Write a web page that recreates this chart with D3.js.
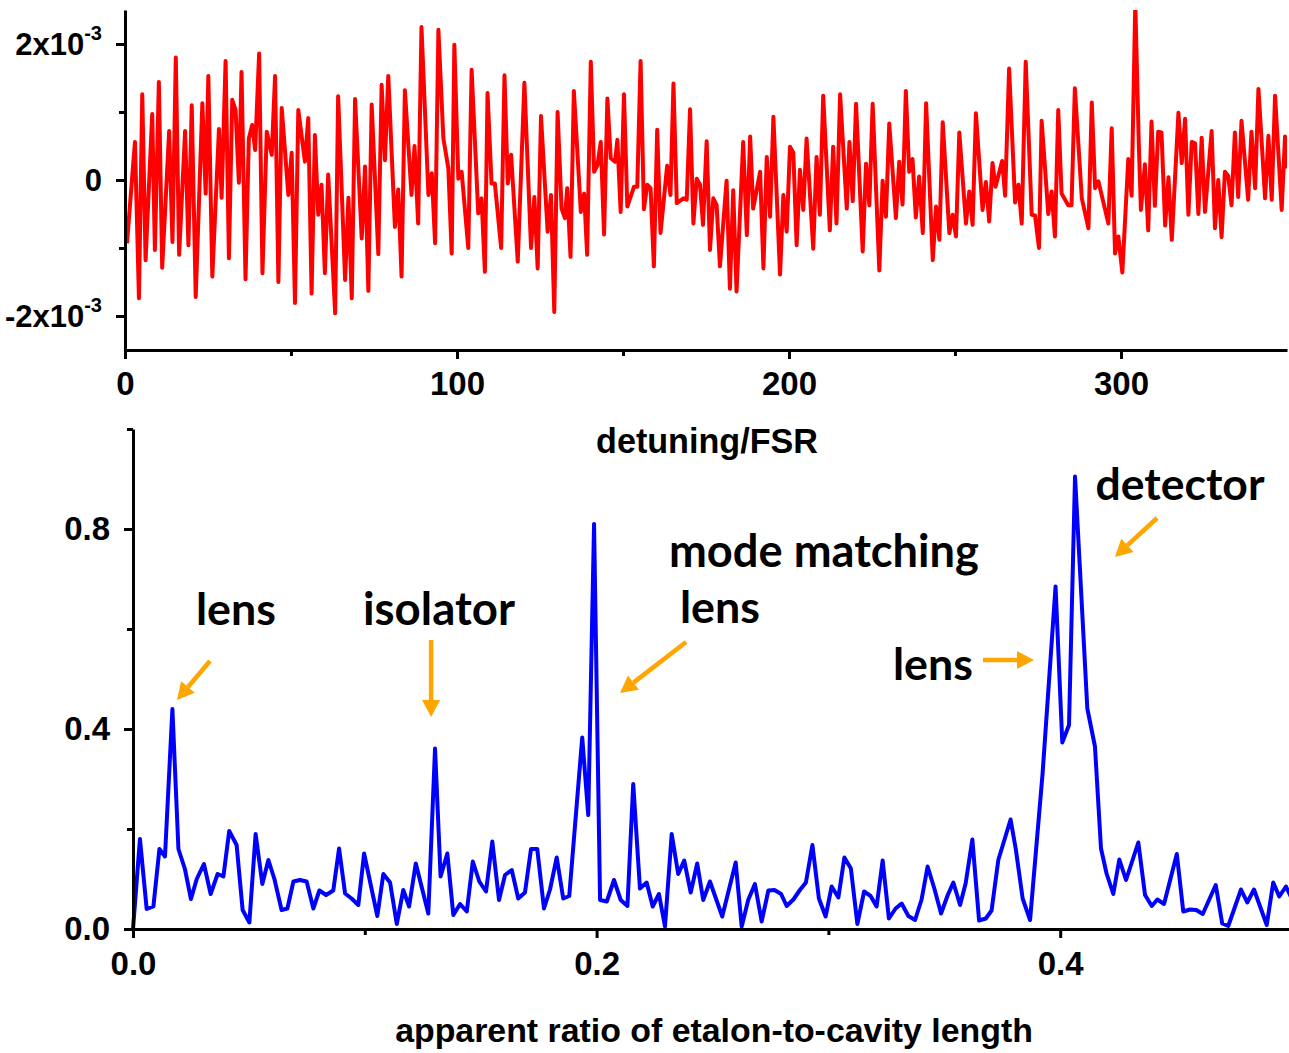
<!DOCTYPE html>
<html><head><meta charset="utf-8">
<script src="https://cdn.jsdelivr.net/npm/d3@7"></script>
<style>body{margin:0;background:#fff} svg{display:block}</style>
</head><body>
<svg id="c" width="1289" height="1053"></svg>
<script>
// ---------- data ----------
// top panel: detuning/FSR vs signal (units of 1e-3)
const redX = [0.6,3.0,4.2,5.2,6.2,8.2,9.0,10.2,11.2,13.3,14.3,15.3,16.3,18.1,19.1,20.1,21.3,23.3,24.3,25.1,26.3,28.3,29.1,30.3,31.3,32.3,33.3,34.3,35.1,36.3,37.3,38.3,39.2,40.4,41.4,42.7,44.2,45.2,46.2,47.2,49.2,50.2,51.2,52.2,54.2,55.2,56.2,57.2,58.2,59.2,60.2,61.2,63.3,64.2,66.3,67.3,68.3,69.3,71.3,72.3,73.3,74.3,76.3,77.3,78.3,79.3,81.3,82.3,83.3,84.3,86.3,87.2,88.3,89.3,91.4,92.4,93.4,94.4,95.9,97.4,98.4,99.2,100.4,101.4,103.4,104.4,106.4,107.4,108.4,109.2,110.4,111.4,113.3,114.3,115.3,116.3,118.3,120.3,122.3,123.3,124.3,125.3,127.3,128.3,129.3,130.3,131.5,132.5,133.2,134.2,135.2,137.3,138.3,139.2,140.3,141.3,142.3,143.3,144.3,145.3,146.3,147.6,148.3,149.3,150.3,151.3,153.3,154.3,155.3,156.3,157.3,158.3,159.3,160.3,161.3,163.3,164.3,165.2,166.2,168.2,169.2,170.2,171.2,172.2,173.2,174.1,175.2,176.2,177.2,178.2,179.2,181.2,182.2,183.2,184.2,186.2,187.3,188.3,189.2,191.3,192.3,193.3,194.3,195.3,197.3,198.3,199.3,200.3,201.3,202.3,203.3,204.3,205.3,207.3,208.3,209.3,210.3,212.3,213.3,214.3,215.4,217.4,218.2,219.2,220.2,222.2,223.2,224.2,225.2,227.2,228.2,229.2,230.2,232.2,233.2,234.2,235.2,236.2,237.2,238.2,239.2,240.3,241.3,243.3,244.3,245.3,246.3,248.3,249.3,250.3,251.3,253.3,254.3,255.3,256.3,258.3,259.3,260.3,261.3,262.2,264.2,265.1,266.3,268.1,269.1,270.1,271.3,273.1,274.1,275.3,276.1,278.1,279.1,280.1,281.1,282.1,284.1,285.1,286.1,288.2,290.2,291.2,292.2,293.2,296.2,297.2,298.2,299.2,300.4,302.2,303.2,304.3,305.4,306.0,307.2,308.2,309.2,310.2,311.2,312.2,313.3,314.3,315.3,317.3,318.3,319.3,320.3,321.3,322.3,323.3,324.3,325.3,327.3,328.3,329.3,330.3,331.3,332.3,333.3,334.3,335.3,336.3,338.3,339.3,340.4,341.4,343.4,344.4,345.4,346.4,348.4,349.4,350.2];
const redY = [-0.93,0.56,-1.74,1.26,-1.18,0.97,-1.03,1.44,-1.29,0.72,-0.91,1.80,-1.10,0.72,-0.96,1.10,-1.72,1.13,-0.20,1.53,-1.42,0.75,-0.26,1.75,-1.15,1.18,1.03,-0.04,1.59,-1.46,0.61,0.81,0.44,1.86,-1.37,0.71,0.37,1.53,-1.50,1.06,-0.22,0.40,-1.81,1.03,0.27,0.91,-1.67,0.66,-0.51,-0.07,-1.37,0.08,-1.96,1.23,-1.47,-0.26,-1.74,1.19,-0.86,0.20,-1.63,1.11,-1.09,1.40,0.29,1.53,-0.69,-0.14,-1.42,1.32,-0.22,0.50,-0.64,2.25,-0.22,0.10,-0.93,2.21,0.61,0.17,-1.08,1.99,0.02,0.12,-1.00,1.62,-0.49,-0.27,-1.35,1.28,-0.05,-0.05,-1.00,1.54,-0.05,0.37,-1.20,1.43,-1.00,-0.25,-1.30,0.94,-0.76,-0.22,-1.94,1.00,-0.42,-0.56,-0.12,-1.13,1.31,-0.47,-0.20,-1.10,1.74,0.12,0.22,0.56,-0.80,1.20,0.32,0.27,0.59,-0.47,1.26,-0.39,-0.10,-0.10,1.75,-0.43,-0.07,-0.12,-1.27,0.74,-0.78,0.21,-0.22,1.42,-0.34,-0.27,-0.29,1.04,-0.64,0.02,-0.07,-0.66,0.57,-1.03,-0.27,-0.37,-1.27,-0.01,-1.60,-0.15,-1.64,0.56,-0.81,0.64,-0.42,0.12,-1.30,0.34,-0.54,0.93,-1.39,-0.22,-0.76,0.49,0.40,-0.96,0.15,-0.44,0.61,-1.01,0.34,-0.51,1.24,-0.74,0.49,-0.64,1.26,-0.42,0.56,-0.31,1.12,-1.05,0.24,-0.37,1.12,-1.33,-0.01,-0.54,0.83,-0.56,0.27,-0.36,1.31,0.12,0.31,-0.55,0.05,-0.78,1.13,-1.18,-0.39,-0.88,0.85,-0.78,-0.51,-0.83,0.70,-0.64,-0.17,-0.66,0.98,-0.44,-0.03,-0.61,0.25,-0.10,0.28,-0.23,1.64,-0.33,-0.07,-0.64,1.74,-0.51,-0.52,-1.00,0.87,-0.50,-0.17,-0.83,1.03,-0.20,-0.37,-0.37,1.35,-0.27,-0.71,1.14,-0.12,-0.02,-0.64,0.76,-1.08,-0.83,-1.36,0.31,-0.23,2.6,0.47,-0.44,0.23,-0.74,0.86,-0.38,0.71,0.70,-0.67,0.04,-0.88,0.99,0.25,0.90,-0.51,0.56,0.54,-0.50,0.62,-0.47,0.72,-0.71,0.00,-0.84,0.12,0.06,-0.37,0.70,-0.25,0.87,-0.29,0.71,-0.12,1.34,-0.27,0.65,-0.29,1.24,-0.44,0.64,0.17];
// bottom panel: apparent ratio vs amplitude
const blueX = [0,0.003,0.0059,0.0088,0.0114,0.0138,0.017,0.0196,0.0224,0.025,0.0275,0.0306,0.0335,0.0365,0.039,0.0415,0.0447,0.0473,0.0502,0.0529,0.0558,0.0584,0.061,0.0641,0.0666,0.0692,0.072,0.0749,0.0778,0.0804,0.0833,0.0864,0.0889,0.0915,0.0943,0.0972,0.0997,0.1054,0.108,0.1109,0.1138,0.1166,0.1191,0.122,0.1274,0.1303,0.1327,0.1356,0.1382,0.1411,0.144,0.1466,0.1494,0.1523,0.155,0.1579,0.1605,0.1634,0.1662,0.1691,0.1717,0.1744,0.1773,0.1799,0.1828,0.1856,0.1882,0.1938,0.1964,0.1989,0.2015,0.2044,0.2075,0.2104,0.2133,0.2158,0.2187,0.2216,0.2242,0.2269,0.2295,0.2324,0.2352,0.2378,0.2406,0.2434,0.246,0.2489,0.2542,0.26,0.2626,0.2654,0.2683,0.2712,0.2741,0.2767,0.2796,0.282,0.2849,0.2877,0.2903,0.2931,0.2959,0.2988,0.3014,0.3043,0.3069,0.3097,0.3125,0.3154,0.3182,0.3208,0.3234,0.3261,0.329,0.3316,0.3345,0.3374,0.3402,0.3428,0.3457,0.3486,0.3515,0.3539,0.3568,0.3592,0.3621,0.365,0.3679,0.3704,0.3733,0.3786,0.3809,0.3838,0.387,0.3924,0.398,0.4009,0.4038,0.4064,0.4117,0.415,0.4176,0.42,0.4229,0.4255,0.4284,0.4337,0.4366,0.4395,0.4419,0.4448,0.4503,0.4531,0.456,0.4587,0.4615,0.4671,0.4699,0.4725,0.478,0.4807,0.4836,0.4891,0.4919,0.4945,0.4974,0.5];
const blueY = [0,0.18,0.04,0.045,0.16,0.145,0.44,0.16,0.12,0.06,0.10,0.13,0.07,0.11,0.105,0.196,0.168,0.038,0.013,0.19,0.09,0.138,0.10,0.038,0.041,0.095,0.098,0.095,0.041,0.077,0.068,0.077,0.161,0.071,0.061,0.048,0.151,0.026,0.11,0.093,0.01,0.078,0.045,0.131,0.031,0.361,0.105,0.151,0.028,0.05,0.035,0.135,0.095,0.075,0.175,0.058,0.108,0.118,0.061,0.073,0.16,0.16,0.041,0.079,0.143,0.061,0.066,0.383,0.228,0.81,0.058,0.055,0.098,0.058,0.046,0.29,0.081,0.093,0.045,0.07,0.005,0.19,0.11,0.137,0.073,0.131,0.058,0.095,0.025,0.133,0.005,0.058,0.09,0.015,0.077,0.078,0.07,0.046,0.059,0.078,0.093,0.168,0.061,0.025,0.085,0.063,0.143,0.121,0.01,0.075,0.066,0.045,0.137,0.021,0.041,0.051,0.026,0.018,0.059,0.125,0.081,0.031,0.068,0.093,0.048,0.091,0.179,0.017,0.021,0.037,0.138,0.219,0.158,0.061,0.018,0.311,0.685,0.373,0.408,0.905,0.441,0.365,0.161,0.111,0.07,0.139,0.098,0.173,0.068,0.046,0.059,0.05,0.15,0.035,0.039,0.038,0.03,0.088,0.011,0.006,0.079,0.053,0.079,0.008,0.093,0.065,0.085,0.06];

const topXTicks = [0,100,200,300];
const topXMinor = [50,150,250];
const topYTicks = [-2,0,2];
const topYMinor = [-1,1];
const botXTicks = [0,0.2,0.4];
const botXMinor = [0.1,0.3];
const botYTicks = [0,0.4,0.8];
const botYMinor = [0.2,0.6,1.0];

const topXTitle = "detuning/FSR";
const botXTitle = "apparent ratio of etalon-to-cavity length";
const annText = ["lens","isolator","mode matching","lens","lens","detector"];

// ---------- drawing ----------
const svg = d3.select("#c");
svg.append("rect").attr("width",1289).attr("height",1053).attr("fill","#fff");
const AX_FONT = "'Liberation Sans', Arial, sans-serif";
const ANN_FONT = "Lato, 'Open Sans', sans-serif";
const TICK_FS = 33;

// scales
const xT = d3.scaleLinear().domain([0,350]).range([125,1287]);
const yT = d3.scaleLinear().domain([-2.5,2.5]).range([350,10]);
const xB = d3.scaleLinear().domain([0,0.5]).range([133,1292]);
const yB = d3.scaleLinear().domain([0,1]).range([929,429]);

function styleAxis(g){
  g.select(".domain").attr("stroke","#000").attr("stroke-width",3);
  g.selectAll(".tick line").attr("stroke","#000").attr("stroke-width",3);
  g.selectAll(".tick text").attr("fill","#000").attr("font-family",AX_FONT)
    .attr("font-weight","bold").attr("font-size",TICK_FS);
}

// clip for top
svg.append("clipPath").attr("id","clipT").append("rect")
  .attr("x",125).attr("y",10).attr("width",1162).attr("height",340);

// top line
const topData = redX.map((x,i)=>[x,redY[i]]);
svg.append("path").datum(topData)
  .attr("clip-path","url(#clipT)")
  .attr("fill","none").attr("stroke","#ff0000").attr("stroke-width",4)
  .attr("stroke-linejoin","round")
  .attr("d", d3.line().x(d=>xT(d[0])).y(d=>yT(d[1])));

// top axes
const gTx = svg.append("g").attr("transform",`translate(0,${yT(-2.5)})`)
  .call(d3.axisBottom(xT).tickValues(topXTicks).tickSize(9).tickSizeOuter(0).tickPadding(13).tickFormat(d3.format("d")));
styleAxis(gTx);
const gTxm = svg.append("g").attr("transform",`translate(0,${yT(-2.5)})`)
  .call(d3.axisBottom(xT).tickValues(topXMinor).tickSize(6).tickSizeOuter(0).tickFormat(""));
styleAxis(gTxm); gTxm.select(".domain").remove();

const gTy = svg.append("g").attr("transform",`translate(${xT(0)},0)`)
  .call(d3.axisLeft(yT).tickValues(topYTicks).tickSize(9).tickSizeOuter(0).tickPadding(14).tickFormat(""));
styleAxis(gTy);
gTy.selectAll(".tick").each(function(d){
  const t = d3.select(this).select("text").attr("font-size",31).attr("dy","0.35em");
  t.text(null);
  if (d===0){ t.text("0"); }
  else {
    t.append("tspan").text((d<0?"-":"")+"2x10");
    t.append("tspan").attr("font-size",20).attr("dy","-0.75em").text("-3");
  }
});
const gTym = svg.append("g").attr("transform",`translate(${xT(0)},0)`)
  .call(d3.axisLeft(yT).tickValues(topYMinor).tickSize(6).tickSizeOuter(0).tickFormat(""));
styleAxis(gTym); gTym.select(".domain").remove();

// bottom line
const botData = blueX.map((x,i)=>[x,blueY[i]]);
svg.append("path").datum(botData)
  .attr("fill","none").attr("stroke","#0000ff").attr("stroke-width",4)
  .attr("stroke-linejoin","round")
  .attr("d", d3.line().x(d=>xB(d[0])).y(d=>yB(d[1])));

// bottom axes
const gBx = svg.append("g").attr("transform",`translate(0,${yB(0)})`)
  .call(d3.axisBottom(xB).tickValues(botXTicks).tickSize(9).tickSizeOuter(0).tickPadding(14).tickFormat(d3.format(".1f")));
styleAxis(gBx);
const gBxm = svg.append("g").attr("transform",`translate(0,${yB(0)})`)
  .call(d3.axisBottom(xB).tickValues(botXMinor).tickSize(6).tickSizeOuter(0).tickFormat(""));
styleAxis(gBxm); gBxm.select(".domain").remove();
const gBy = svg.append("g").attr("transform",`translate(${xB(0)},0)`)
  .call(d3.axisLeft(yB).tickValues(botYTicks).tickSize(9).tickSizeOuter(0).tickPadding(14).tickFormat(d3.format(".1f")));
styleAxis(gBy);
const gBym = svg.append("g").attr("transform",`translate(${xB(0)},0)`)
  .call(d3.axisLeft(yB).tickValues(botYMinor).tickSize(6).tickSizeOuter(0).tickFormat(""));
styleAxis(gBym); gBym.select(".domain").remove();

// axis titles
function fitWidth(sel, w){
  const n = sel.node(); const fs = +sel.attr("font-size");
  const len = n.getComputedTextLength();
  sel.attr("font-size", fs*w/len);
}
const t1 = svg.append("text").attr("x",707).attr("y",453).attr("text-anchor","middle")
  .attr("font-family",AX_FONT).attr("font-weight","bold").attr("font-size",28).text(topXTitle);
fitWidth(t1,222);
const t2 = svg.append("text").attr("x",714).attr("y",1042).attr("text-anchor","middle")
  .attr("font-family",AX_FONT).attr("font-weight","bold").attr("font-size",28).text(botXTitle);
fitWidth(t2,638);

// annotations (positions in data units of bottom panel)
const annPos = [[0.0444,0.608],[0.132,0.608],[0.2981,0.724],[0.2532,0.612],[0.3451,0.498],[0.4517,0.858]];
const annWidths = [80,152,310,80,80,169];
annText.forEach((s,i)=>{
  const t = svg.append("text").attr("x",xB(annPos[i][0])).attr("y",yB(annPos[i][1]))
    .attr("text-anchor","middle").attr("font-family",ANN_FONT).attr("font-weight","bold")
    .attr("font-size",40).attr("fill","#000").text(s);
  fitWidth(t, annWidths[i]);
});
const arrows = [[[0.0332,0.536],[0.019,0.458]],[[0.1286,0.578],[0.1286,0.424]],
  [[0.2386,0.574],[0.2101,0.472]],[[0.3667,0.538],[0.3887,0.538]],[[0.4418,0.822],[0.4236,0.744]]];
const ORANGE = "#ffa500";
arrows.forEach(a=>{
  const x1=xB(a[0][0]), y1=yB(a[0][1]), x2=xB(a[1][0]), y2=yB(a[1][1]);
  const ang = Math.atan2(y2-y1,x2-x1);
  const hl = 17, hw = 9;
  const bx = x2 - hl*Math.cos(ang), by = y2 - hl*Math.sin(ang);
  svg.append("line").attr("x1",x1).attr("y1",y1).attr("x2",bx).attr("y2",by)
    .attr("stroke",ORANGE).attr("stroke-width",4.5);
  const px = -Math.sin(ang), py = Math.cos(ang);
  svg.append("path").attr("fill",ORANGE)
    .attr("d",`M${x2},${y2}L${bx+hw*px},${by+hw*py}L${bx-hw*px},${by-hw*py}Z`);
});
</script>
</body></html>
